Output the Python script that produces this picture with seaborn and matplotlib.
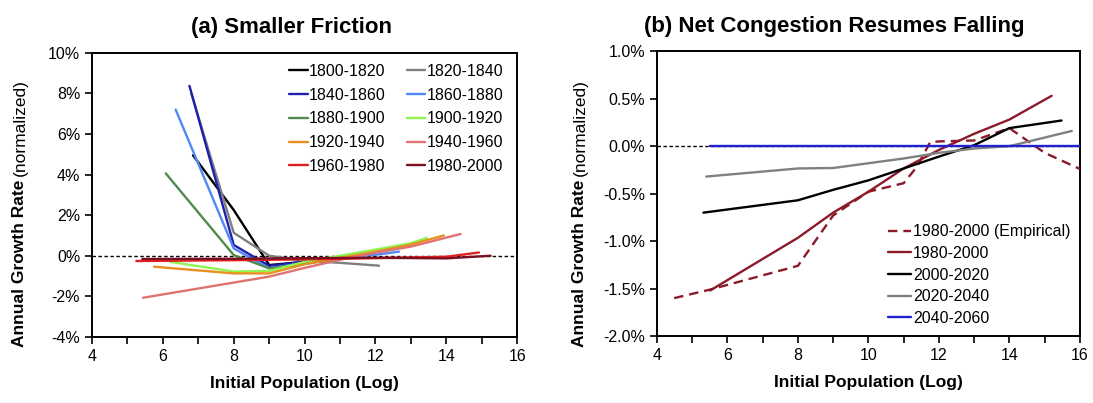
"""Two-panel growth-rate chart: smaller friction vs. net congestion."""

import matplotlib
matplotlib.use("Agg")
import matplotlib.pyplot as plt
from matplotlib.ticker import FuncFormatter, MultipleLocator
import seaborn as sns

# ---- panel (a): growth rate (%) by initial log population ----
a_labels = ["1800-1820", "1820-1840", "1840-1860", "1860-1880", "1880-1900",
            "1900-1920", "1920-1940", "1940-1960", "1960-1980", "1980-2000"]
a_colors = ["#000000", "#7f7f7f", "#1f1fb0", "#5088f5", "#4f8a50",
            "#8cf550", "#e8901e", "#e07272", "#e02020", "#7a1020"]
a_x = [
    [6.85, 8, 9, 10, 10.5],
    [6.8, 8, 9, 10, 11, 12.1],
    [6.75, 8, 9, 10, 11],
    [6.36, 8, 9, 10, 11, 12, 12.66],
    [6.08, 8, 9, 10, 11],
    [6.2, 8, 9, 10, 11, 12, 13, 13.45],
    [5.75, 8, 9, 10, 11, 12, 13, 13.93],
    [5.44, 9, 10, 11, 12, 13, 14.4],
    [5.25, 8, 10, 12, 14, 14.92],
    [5.42, 8, 10, 12, 14, 15.25],
]
a_y = [
    [4.95, 2.25, -0.46, -0.3, -0.25],
    [8.0, 1.13, 0.0, -0.25, -0.35, -0.49],
    [8.37, 0.53, -0.5, -0.3, -0.1],
    [7.2, 0.36, -0.62, -0.35, -0.1, 0.05, 0.2],
    [4.06, 0.03, -0.62, -0.4, -0.15],
    [-0.3, -0.78, -0.75, -0.3, 0.0, 0.3, 0.62, 0.88],
    [-0.54, -0.87, -0.87, -0.42, -0.1, 0.2, 0.55, 1.0],
    [-2.07, -1.03, -0.6, -0.2, 0.15, 0.45, 1.07],
    [-0.26, -0.22, -0.18, -0.12, -0.05, 0.16],
    [-0.16, -0.15, -0.12, -0.1, -0.13, 0.0],
]

# ---- panel (b) ----
b_labels = ["1980-2000 (Empirical)", "1980-2000", "2000-2020", "2020-2040", "2040-2060"]
b_colors = ["#8b1a2b", "#8b1a2b", "#000000", "#808080", "#2020d0"]
b_dashed = [True, False, False, False, False]
b_x = [
    [4.49, 5.51, 8, 9, 10, 11, 11.37, 11.75, 12, 13, 14, 15, 16],
    [5.51, 8, 9, 10, 11, 12, 13, 14, 15.2],
    [5.32, 8, 9, 10, 11, 12, 13, 14, 15.48],
    [5.4, 8, 9, 10, 11, 12, 13, 14, 15.77],
    [5.5, 16],
]
b_y = [
    [-1.60, -1.51, -1.26, -0.73, -0.48, -0.39, -0.22, 0.04, 0.05, 0.06, 0.19, -0.07, -0.24],
    [-1.52, -0.965, -0.70, -0.48, -0.235, -0.04, 0.13, 0.28, 0.53],
    [-0.70, -0.57, -0.46, -0.36, -0.235, -0.11, 0.01, 0.19, 0.27],
    [-0.32, -0.235, -0.23, -0.18, -0.13, -0.07, -0.025, 0.0, 0.16],
    [0.0, 0.0],
]

sns.set_style("white")
plt.rcParams["font.family"] = ["Liberation Sans", "DejaVu Sans"]
plt.rcParams["text.color"] = "black"
plt.rcParams["xtick.color"] = "black"
plt.rcParams["ytick.color"] = "black"
plt.rcParams["axes.labelcolor"] = "black"

fig = plt.figure(figsize=(10.93, 4.03), dpi=100)
ax_a = fig.add_axes([0.0842, 0.164, 0.389, 0.705])
ax_b = fig.add_axes([0.601, 0.166, 0.387, 0.707])


def style_axis(ax, ylim, ystep, yfmt):
    ax.set_xlim(4, 16)
    ax.set_ylim(*ylim)
    ax.xaxis.set_major_locator(MultipleLocator(2))
    ax.xaxis.set_minor_locator(MultipleLocator(1))
    ax.yaxis.set_major_locator(MultipleLocator(ystep))
    ax.yaxis.set_major_formatter(FuncFormatter(lambda v, p: yfmt.format(v)))
    ax.tick_params(which="both", direction="out", length=5, width=1.2,
                   color="black", labelsize=11.5, labelcolor="black",
                   bottom=True, left=True)
    ax.tick_params(which="minor", labelbottom=False)
    for sp in ax.spines.values():
        sp.set_color("black")
        sp.set_linewidth(1.4)
    ax.axhline(0, color="black", lw=1.0, ls=(0, (2.5, 1.8)), zorder=1)
    ax.set_xlabel("Initial Population (Log)", fontsize=12.5, fontweight="bold", labelpad=9)
    ax.set_ylabel("")


for lab, col, xs, ys in zip(a_labels, a_colors, a_x, a_y):
    sns.lineplot(x=xs, y=ys, color=col, lw=1.7, label=lab, sort=False,
                 estimator=None, ax=ax_a, zorder=3)

for lab, col, dash, xs, ys in zip(b_labels, b_colors, b_dashed, b_x, b_y):
    line = sns.lineplot(x=xs, y=ys, color=col, lw=1.7, label=lab, sort=False,
                        estimator=None, ax=ax_b, zorder=3).lines[-1]
    if dash:
        line.set_dashes([4, 2.5])

style_axis(ax_a, (-4, 10), 2, "{:.0f}%")
style_axis(ax_b, (-2, 1), 0.5, "{:.1f}%")

# legend of panel (a) is filled row by row
handles, labels = ax_a.get_legend_handles_labels()
order = list(range(0, 10, 2)) + list(range(1, 10, 2))
ax_a.legend([handles[i] for i in order], [labels[i] for i in order],
            ncol=2, loc="upper right", bbox_to_anchor=(0.99, 0.995), frameon=False,
            fontsize=11.5, handlelength=1.15, handletextpad=0.1, columnspacing=1.3,
            labelspacing=0.55, borderaxespad=0.2)
ax_b.legend(loc="lower right", bbox_to_anchor=(1.012, -0.015), frameon=False,
            fontsize=11.5, handlelength=1.5, handletextpad=0.1, labelspacing=0.42)

ax_a.set_title("(a) Smaller Friction", fontsize=16, fontweight="bold", x=0.47, pad=14)
ax_b.set_title("(b) Net Congestion Resumes Falling", fontsize=16, fontweight="bold",
               x=0.42, pad=14)

# y labels: bold part followed by a regular part
fig.canvas.draw()
renderer = fig.canvas.get_renderer()
for xpx in (20, 580):
    bold = fig.text(xpx / 1093, 1 - 347 / 403, "Annual Growth Rate", rotation=90,
                    fontsize=12.5, fontweight="bold", ha="center", va="bottom")
    ext = bold.get_window_extent(renderer)
    fig.text(xpx / 1093, (ext.y1 + 4) / fig.bbox.height, "(normalized)", rotation=90,
             fontsize=12.5, ha="center", va="bottom")

fig.savefig("out.png", dpi=100)
